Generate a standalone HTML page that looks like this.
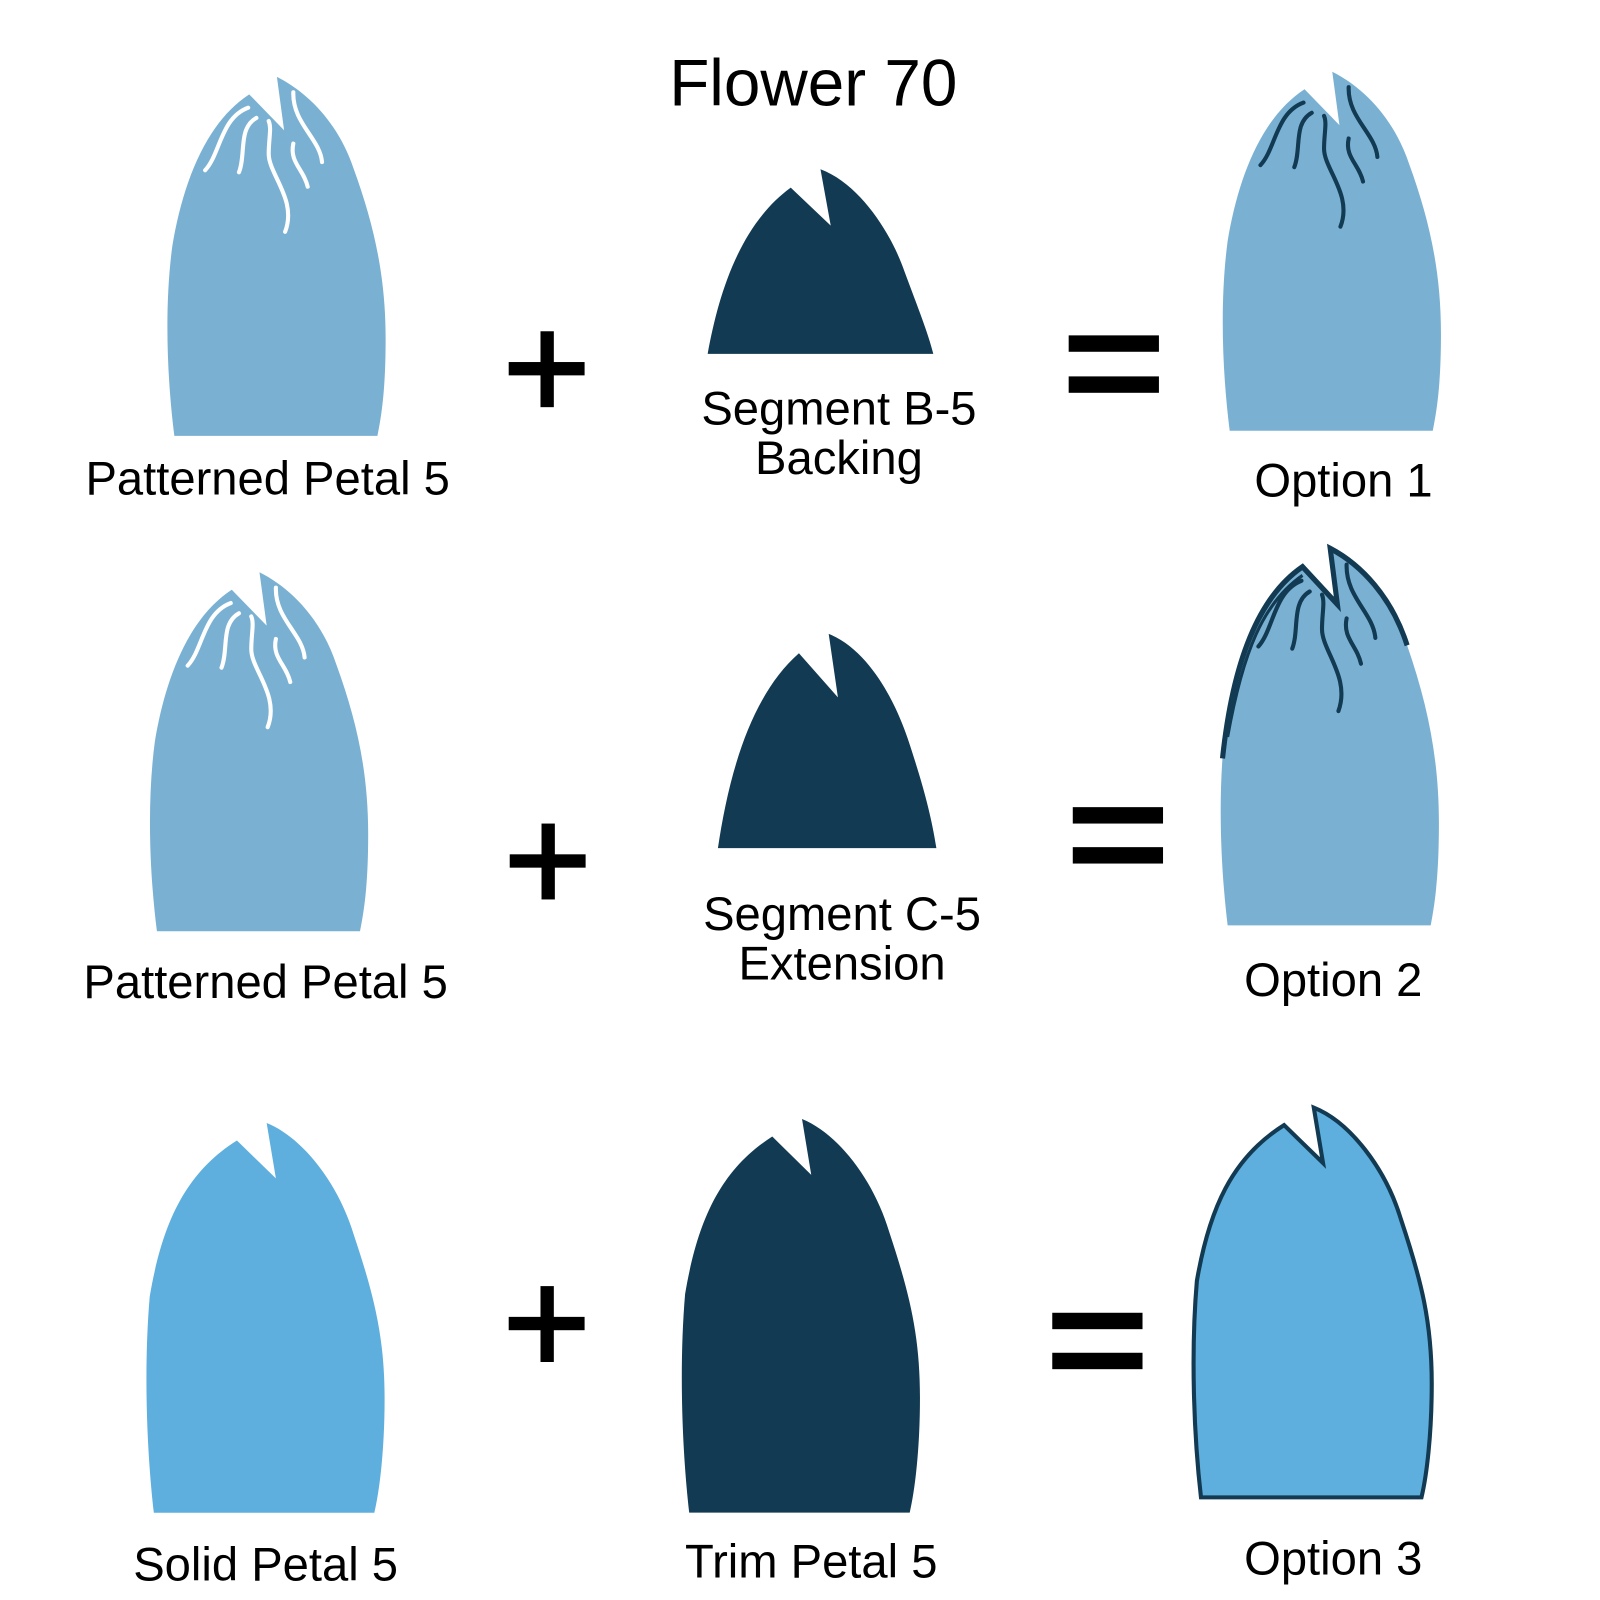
<!DOCTYPE html>
<html><head><meta charset="utf-8"><style>
html,body{margin:0;padding:0;background:#fff;}
svg{display:block;}
text{font-family:"Liberation Sans",sans-serif;fill:#000;}
</style></head><body>
<svg width="1600" height="1600" viewBox="0 0 1600 1600" xmlns="http://www.w3.org/2000/svg">
<defs>
<path id="pp" d="M170,425 C163,370 160,300 168,240 C178,180 200,120 243,92 L277,127 L270,75 C300,90 330,120 345,165 C365,220 376,270 376,330 C376,380 372,405 368,425 Z"/>
<g id="pat">
<path d="M200,166 C215,150 215,115 242,105" />
<path d="M233,168 C240,150 232,125 250,115" />
<path d="M278,226 C290,195 262,170 262,150 C262,135 265,125 262,118" />
<path d="M300,182 C296,165 282,158 286,140" />
<path d="M314,158 C312,135 285,120 286,90" />
</g>
<path id="sp" d="M150,1481 C143,1420 140,1340 146,1270 C158,1200 180,1150 231,1118 L269,1155 L260,1101 C295,1115 330,1160 345,1210 C365,1270 375,1310 375,1370 C375,1420 370,1460 365,1481 Z"/>
</defs>
<g transform="scale(1.0256)">
<text x="793" y="103" font-size="64" text-anchor="middle">Flower 70</text>

<!-- Row 1 -->
<use href="#pp" fill="#7ab1d3"/>
<g fill="none" stroke="#fff" stroke-width="4" stroke-linecap="round"><use href="#pat"/></g>
<text x="261" y="482" font-size="46" text-anchor="middle">Patterned Petal 5</text>
<rect x="496" y="353" width="74" height="13" fill="#000"/>
<rect x="527" y="323" width="13" height="74" fill="#000"/>
<path d="M690,345 C700,290 720,220 771,183 L810,220 L800,165 C840,180 870,230 882,265 C895,300 905,325 910,345 Z" fill="#123a52"/>
<text x="818" y="414" font-size="46" text-anchor="middle">Segment B-5</text>
<text x="818" y="462" font-size="46" text-anchor="middle">Backing</text>
<rect x="1042" y="327" width="88" height="16" fill="#000"/>
<rect x="1042" y="367" width="88" height="16" fill="#000"/>
<g transform="translate(1029,-5)">
<use href="#pp" fill="#7ab1d3"/>
<g fill="none" stroke="#123a52" stroke-width="4" stroke-linecap="round"><use href="#pat"/></g>
</g>
<text x="1310" y="484" font-size="46" text-anchor="middle">Option 1</text>

<!-- Row 2 -->
<g transform="translate(-17,483)">
<use href="#pp" fill="#7ab1d3"/>
<g fill="none" stroke="#fff" stroke-width="4" stroke-linecap="round"><use href="#pat"/></g>
</g>
<text x="259" y="973" font-size="46" text-anchor="middle">Patterned Petal 5</text>
<rect x="497" y="833" width="74" height="13" fill="#000"/>
<rect x="528" y="803" width="13" height="74" fill="#000"/>
<path d="M700,827 C710,760 730,680 779,637 L817,680 L808,618 C850,635 875,690 885,720 C900,765 908,795 913,827 Z" fill="#123a52"/>
<text x="821" y="907" font-size="46" text-anchor="middle">Segment C-5</text>
<text x="821" y="955" font-size="46" text-anchor="middle">Extension</text>
<rect x="1046" y="787" width="88" height="16" fill="#000"/>
<rect x="1046" y="826" width="88" height="16" fill="#000"/>
<g transform="translate(1027,477) scale(1,1.05) translate(0,-20)">
<use href="#pp" fill="#7ab1d3"/>
<path d="M165,270 C175,180 200,120 243,92 L277,127 L270,75 C300,90 330,120 345,165" fill="none" stroke="#123a52" stroke-width="5"/>
<path d="M170,250 C185,170 205,125 243,100" fill="none" stroke="#123a52" stroke-width="3"/>
<g fill="none" stroke="#123a52" stroke-width="4" stroke-linecap="round"><use href="#pat"/></g>
</g>
<text x="1300" y="971" font-size="46" text-anchor="middle">Option 2</text>

<!-- Row 3 -->
<g transform="translate(0,-6)"><use href="#sp" fill="#5eafde"/></g>
<text x="259" y="1541" font-size="46" text-anchor="middle">Solid Petal 5</text>
<rect x="496" y="1284" width="74" height="13" fill="#000"/>
<rect x="527" y="1254" width="13" height="74" fill="#000"/>
<g transform="translate(522,-21) scale(1,1.01)"><use href="#sp" fill="#123a52"/></g>
<text x="791" y="1538" font-size="46" text-anchor="middle">Trim Petal 5</text>
<rect x="1026" y="1280" width="88" height="16" fill="#000"/>
<rect x="1026" y="1319" width="88" height="16" fill="#000"/>
<g transform="translate(1021,-21)"><use href="#sp" fill="#5eafde" stroke="#123a52" stroke-width="4"/></g>
<text x="1300" y="1535" font-size="46" text-anchor="middle">Option 3</text>
</g>
</svg>
</body></html>
